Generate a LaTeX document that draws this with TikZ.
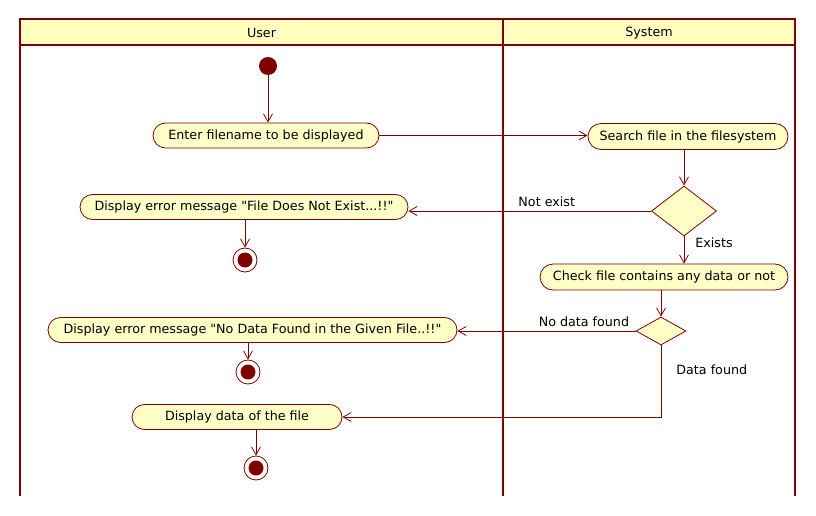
\documentclass[tikz,border=0pt]{standalone}
\usepackage{fontspec}
\setmainfont{DejaVu Sans}
\usetikzlibrary{arrows.meta,shapes.misc,shapes.geometric}
\definecolor{umlred}{HTML}{7F0000}
\definecolor{umlfill}{HTML}{FFFFC8}
\definecolor{umlhead}{HTML}{FFFFC0}

\begin{document}
\begin{tikzpicture}[x=1pt, y=-1pt,
    every node/.style={font=\fontsize{12.7}{14}\selectfont},
    act/.style={rounded rectangle, draw=umlred, fill=umlfill, minimum height=25pt, inner sep=0pt, line width=0.8pt},
    dec/.style={diamond, draw=umlred, fill=umlfill, inner sep=0pt, line width=0.8pt},
    initnode/.style={circle, fill=umlred, minimum size=18pt, inner sep=0pt},
    finalnode/.style={circle, draw=umlred, fill=white, minimum size=24pt, inner sep=0pt, line width=0.8pt,
        path picture={\fill[umlred] (path picture bounding box.center) circle (7.5pt);}},
    lane/.style={draw=umlred, line width=2.5pt},
    arr/.style={draw=umlred, line width=0.8pt, -{Straight Barb[length=8pt,width=9pt]}},
    lbl/.style={inner sep=1pt}
]
\useasboundingbox (0,0) rectangle (816,516);

% Swimlanes
\fill[umlhead] (20,19) rectangle (795,45);
\draw[lane] (20,45) -- (795,45);
\draw[lane] (20,496) -- (20,19) -- (795,19) -- (795,496);
\draw[lane] (503,19) -- (503,496);
\node (user) at (261.5,33) {User};
\node (system) at (649,33) {System};

% User lane
\node[initnode] (start) at (268,66) {};
\node[act, minimum width=226pt] (enter) at (266,135.5) {Enter filename to be displayed};
\node[act, minimum width=328pt] (err1) at (244,207) {Display error message \textquotedbl File Does Not Exist...!!\textquotedbl};
\node[finalnode] (fin1) at (245,260) {};
\node[act, minimum width=409pt] (err2) at (252.5,330) {Display error message \textquotedbl No Data Found in the Given File..!!\textquotedbl};
\node[finalnode] (fin2) at (248,372) {};
\node[act, minimum width=210pt] (disp) at (237,417) {Display data of the file};
\node[finalnode] (fin3) at (256,468) {};

% System lane
\node[act, minimum width=200pt, minimum height=26pt] (srch) at (688,136.5) {Search file in the filesystem};
\node[dec, minimum width=65pt, minimum height=50pt] (d1) at (684,211) {};
\node[act, minimum width=248pt, minimum height=26pt] (chk) at (664,277) {Check file contains any data or not};
\node[dec, minimum width=50pt, minimum height=28pt] (d2) at (661,331) {};

% Flows
\draw[arr] (start) -- (start |- enter.north);
\draw[arr] (enter.east) -- (enter.east -| srch.west);
\draw[arr] (d1.north |- srch.south) -- (d1.north);
\draw[arr] (d1.west) -- (d1.west -| err1.east) node[lbl, pos=0.43, above=3pt] {Not exist};
\draw[arr] (fin1.north |- err1.south) -- (fin1);
\draw[arr] (d1.south) -- (d1.south |- chk.north) node[lbl, pos=0.22, right=10pt] {Exists};
\draw[arr] (d2.north |- chk.south) -- (d2.north);
\draw[arr] (d2.west) -- (d2.west -| err2.east) node[lbl, pos=0.29, above=3pt] {No data found};
\draw[arr] (fin2.north |- err2.south) -- (fin2);
\draw[arr] (d2.south) |- (disp.east) node[lbl, pos=0.17, right=14pt] {Data found};
\draw[arr] (fin3.north |- disp.south) -- (fin3);
\end{tikzpicture}
\end{document}
